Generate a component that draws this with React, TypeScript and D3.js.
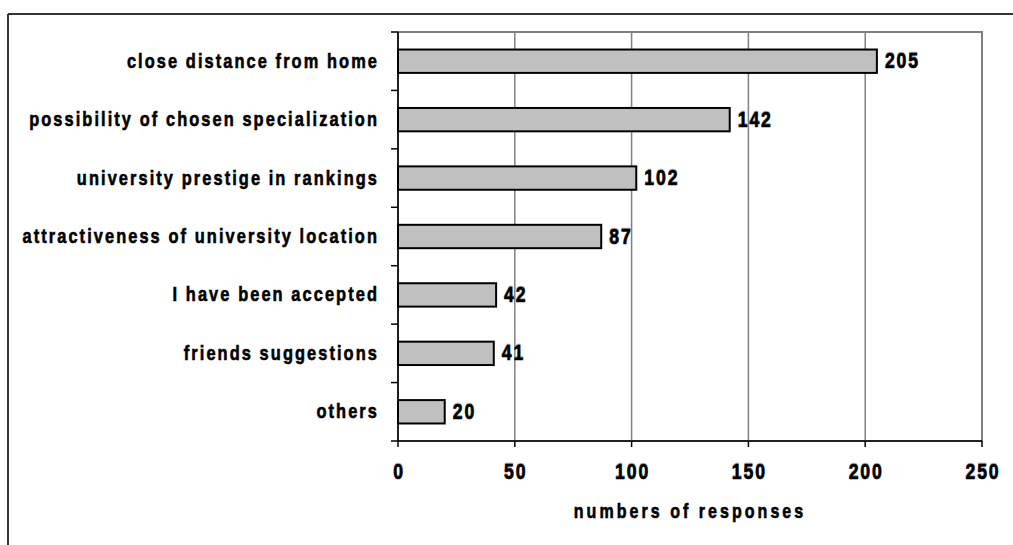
import React from "react";
import * as d3 from "d3";

// Reasons for choosing a university (number of responses)
const categories: string[] = [
  "close distance from home",
  "possibility of chosen specialization",
  "university prestige in rankings",
  "attractiveness of university location",
  "I have been accepted",
  "friends suggestions",
  "others",
];
const responses: number[] = [205, 142, 102, 87, 42, 41, 20];
const xTicks: number[] = [0, 50, 100, 150, 200, 250];
const xTitle = "numbers of responses";

const W = 1013;
const H = 545;
const plot = { left: 398, right: 982, top: 32, bottom: 441 };
const FONT = "'Liberation Sans', Arial, sans-serif";
const SQUEEZE = 0.8; // horizontal condensing of the bold face

type NTextProps = {
  x: number;
  y: number;
  size: number;
  spacing: number;
  anchor?: "start" | "middle" | "end";
  fill?: string;
  children: React.ReactNode;
};

// Condensed heavy text: the glyphs are squeezed horizontally around the anchor point.
function NText({ x, y, size, spacing, anchor = "start", fill = "#000", children }: NTextProps) {
  return (
    <text
      transform={`translate(${x},${y}) scale(${SQUEEZE},1)`}
      textAnchor={anchor}
      fontFamily={FONT}
      fontWeight="bold"
      fontSize={size}
      letterSpacing={spacing}
      fill={fill}
      stroke={fill}
      strokeWidth={0.6}
    >
      {children}
    </text>
  );
}

export default function App() {
  const x = d3.scaleLinear().domain([0, 250]).range([plot.left, plot.right]);
  const y = d3
    .scaleBand<string>()
    .domain(categories)
    .range([plot.top, plot.bottom])
    .paddingInner(0.6)
    .paddingOuter(0.3);
  const bandEdges = d3
    .range(categories.length + 1)
    .map((i) => plot.top + (i * (plot.bottom - plot.top)) / categories.length);
  const center = (c: string) => (y(c) as number) + y.bandwidth() / 2;

  return (
    <svg width={W} height={H} style={{ position: "absolute", left: 0, top: 0, background: "#fff" }}>
      {/* outer frame */}
      <line x1={8} y1={14} x2={W} y2={14} stroke="#333" strokeWidth={2} />
      <line x1={8} y1={14} x2={8} y2={H} stroke="#333" strokeWidth={2} />

      {/* plot-area border */}
      <rect
        x={plot.left}
        y={plot.top}
        width={plot.right - plot.left}
        height={plot.bottom - plot.top}
        fill="none"
        stroke="#808080"
        strokeWidth={2}
      />

      {/* vertical gridlines */}
      {xTicks.slice(1).map((t) => (
        <line key={t} x1={x(t)} x2={x(t)} y1={plot.top} y2={plot.bottom} stroke="#808080" strokeWidth={1.5} />
      ))}

      {/* bars */}
      {categories.map((c, i) => (
        <rect
          key={c}
          x={x(0)}
          y={y(c)}
          width={x(responses[i]) - x(0)}
          height={y.bandwidth()}
          fill="#c0c0c0"
          stroke="#000"
          strokeWidth={2}
        />
      ))}

      {/* axes */}
      <line x1={plot.left} x2={plot.left} y1={plot.top} y2={plot.bottom} stroke="#000" strokeWidth={1.5} />
      <line x1={plot.left} x2={plot.right} y1={plot.bottom} y2={plot.bottom} stroke="#000" strokeWidth={1.5} />
      {bandEdges.map((e, i) => (
        <line key={i} x1={plot.left - 7} x2={plot.left} y1={e} y2={e} stroke="#000" strokeWidth={1.5} />
      ))}
      {xTicks.map((t) => (
        <line key={t} x1={x(t)} x2={x(t)} y1={plot.bottom} y2={plot.bottom + 6} stroke="#000" strokeWidth={1.5} />
      ))}

      {/* category labels */}
      {categories.map((c) => (
        <NText key={c} x={379} y={center(c) + 6.5} size={20.5} spacing={2.6} anchor="end">
          {c}
        </NText>
      ))}

      {/* value labels */}
      {categories.map((c, i) => (
        <g key={c}>
          <NText x={x(responses[i]) + 8} y={center(c) + 6} size={22} spacing={2.4} fill="#aaa">
            {responses[i]}
          </NText>
          <NText x={x(responses[i]) + 8} y={center(c) + 7} size={22} spacing={2.4}>
            {responses[i]}
          </NText>
        </g>
      ))}

      {/* x tick labels */}
      {xTicks.map((t) => (
        <g key={t}>
          <NText x={x(t) + 1} y={plot.bottom + 37} size={22} spacing={2.4} anchor="middle" fill="#aaa">
            {t}
          </NText>
          <NText x={x(t) + 1} y={plot.bottom + 38} size={22} spacing={2.4} anchor="middle">
            {t}
          </NText>
        </g>
      ))}

      {/* axis title */}
      <NText x={(plot.left + plot.right) / 2} y={518} size={20} spacing={3.8} anchor="middle">
        {xTitle}
      </NText>
    </svg>
  );
}
